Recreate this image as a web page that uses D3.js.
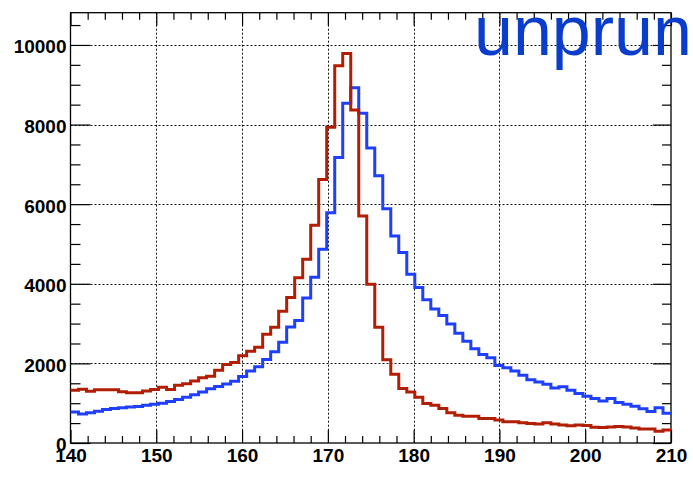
<!DOCTYPE html>
<html><head><meta charset="utf-8">
<script src="https://cdn.jsdelivr.net/npm/d3@7"></script>
<style>html,body{margin:0;padding:0;background:#fff;overflow:hidden}</style>
</head><body>
<script>
// ---- data ----
const binLow = 140, binHigh = 210;
const redValues = [1325,1350,1300,1340,1340,1340,1285,1265,1265,1305,
 1345,1400,1345,1450,1490,1560,1640,1675,1825,1975,
 2020,2190,2308,2408,2735,2908,3308,3658,4150,4617,
 5470,6617,7933,9475,9783,8367,5700,3990,2908,2092,
 1725,1370,1280,1150,995,950,867,758,700,675,
 675,617,617,575,533,533,508,492,475,508,
 475,450,433,450,440,395,392,400,415,405,
 375,350,350,295,325];
const blueValues = [780,730,760,800,840,865,885,905,920,950,
 975,1000,1040,1090,1150,1210,1280,1360,1420,1480,
 1550,1670,1810,1915,2100,2290,2533,2915,3075,3642,
 4165,4867,5783,7175,8533,8925,8283,7408,6717,5883,
 5200,4783,4242,3908,3600,3367,3200,2992,2758,2558,
 2367,2225,2142,1950,1892,1808,1700,1592,1533,1475,
 1383,1410,1325,1242,1175,1117,1055,1117,1015,975,
 925,860,790,885,750];
const xTickValues = [140,150,160,170,180,190,200,210];
const yTickValues = [0,2000,4000,6000,8000,10000];
const titleText = "unprun";

// ---- layout ----
const W = 693, H = 477;
const L = 70.5, R = 671, T = 12.7, B = 443;
const svg = d3.select("body").append("svg").attr("width", W).attr("height", H);
const x = d3.scaleLinear().domain([binLow, binHigh]).range([L, R]);
const y = d3.scaleLinear().domain([0, 10810]).range([B, T]);

const xMinor = d3.range(140, 211, 2).filter(v => v % 10 !== 0);
const yMinor = d3.range(0, 10801, 500).filter(v => v % 2000 !== 0);

// grid
const grid = svg.append("g").attr("stroke", "#111").attr("stroke-width", 1).attr("stroke-dasharray", "2,2");
grid.selectAll(".gx").data(xTickValues.filter(v => v > binLow && v < binHigh)).enter().append("line")
  .attr("x1", d => Math.round(x(d)) + 0.5).attr("x2", d => Math.round(x(d)) + 0.5)
  .attr("y1", T).attr("y2", B);
grid.selectAll(".gy").data(yTickValues.filter(v => v > 0)).enter().append("line")
  .attr("y1", d => Math.round(y(d)) + 0.5).attr("y2", d => Math.round(y(d)) + 0.5)
  .attr("x1", L).attr("x2", R);

// axes helper
function styleAxis(g) {
  g.select(".domain").remove();
  g.selectAll(".tick line").attr("stroke", "#000").attr("stroke-width", 1.2);
  g.selectAll("text").attr("font-family", "'Liberation Sans', Arial, sans-serif")
    .attr("font-weight", "bold").attr("font-size", 19).attr("fill", "#000");
}
// bottom
svg.append("g").attr("transform", `translate(0,${B})`)
  .call(d3.axisBottom(x).tickValues(xTickValues).tickSize(-13).tickPadding(6).tickFormat(d3.format("d")))
  .call(styleAxis);
svg.append("g").attr("transform", `translate(0,${B})`)
  .call(d3.axisBottom(x).tickValues(xMinor).tickSize(-7).tickFormat(""))
  .call(styleAxis);
// top
svg.append("g").attr("transform", `translate(0,${T})`)
  .call(d3.axisTop(x).tickValues(xTickValues).tickSize(-13).tickFormat(""))
  .call(styleAxis);
svg.append("g").attr("transform", `translate(0,${T})`)
  .call(d3.axisTop(x).tickValues(xMinor).tickSize(-7).tickFormat(""))
  .call(styleAxis);
// left
const gl = svg.append("g").attr("transform", `translate(${L},0)`)
  .call(d3.axisLeft(y).tickValues(yTickValues).tickSize(-20).tickPadding(4).tickFormat(d3.format("d")))
  .call(styleAxis);
gl.selectAll("text").attr("dy", "0.42em");
svg.append("g").attr("transform", `translate(${L},0)`)
  .call(d3.axisLeft(y).tickValues(yMinor).tickSize(-10).tickFormat(""))
  .call(styleAxis);
// right
svg.append("g").attr("transform", `translate(${R},0)`)
  .call(d3.axisRight(y).tickValues(yTickValues).tickSize(-18).tickFormat(""))
  .call(styleAxis);
svg.append("g").attr("transform", `translate(${R},0)`)
  .call(d3.axisRight(y).tickValues(yMinor).tickSize(-9).tickFormat(""))
  .call(styleAxis);

// frame
svg.append("rect").attr("x", L).attr("y", T).attr("width", R - L).attr("height", B - T)
  .attr("fill", "none").attr("stroke", "#000").attr("stroke-width", 1.3);

// histograms
function stepPoints(values) {
  const n = values.length, w = (binHigh - binLow) / n;
  const pts = [];
  values.forEach((v, i) => { pts.push([binLow + i * w, v]); pts.push([binLow + (i + 1) * w, v]); });
  return pts;
}
const line = d3.line().x(d => x(d[0])).y(d => y(d[1]));
svg.append("path").datum(stepPoints(blueValues)).attr("d", line)
  .attr("fill", "none").attr("stroke", "#1f3fff").attr("stroke-width", 3).attr("stroke-linejoin", "miter");
svg.append("path").datum(stepPoints(redValues)).attr("d", line)
  .attr("fill", "none").attr("stroke", "#b21e04").attr("stroke-width", 3).attr("stroke-linejoin", "miter");

// title
svg.append("text").attr("x", 474).attr("y", 55)
  .attr("font-family", "'Liberation Sans', Arial, sans-serif").attr("font-size", 70)
  .attr("fill", "#0a3dcc").text(titleText);
</script>
</body></html>
